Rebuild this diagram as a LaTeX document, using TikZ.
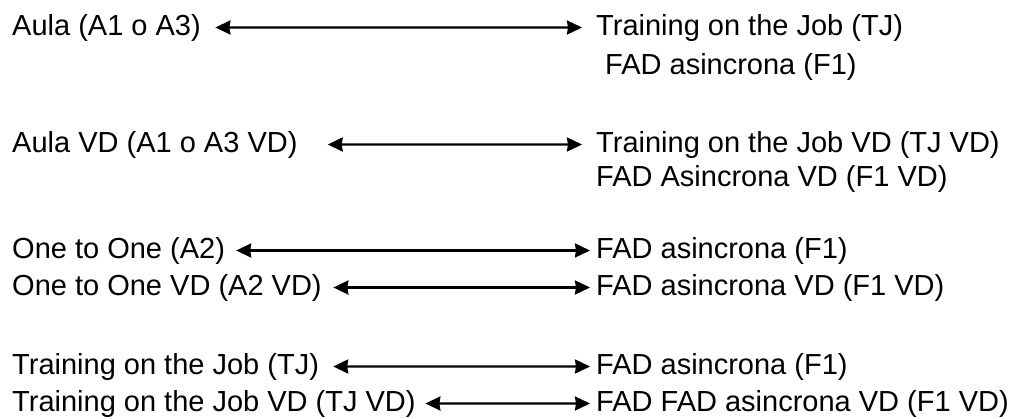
\documentclass[tikz,border=0pt]{standalone}
\usepackage{fontspec}
\setmainfont{Liberation Sans}
\usepackage{tikz}
\usetikzlibrary{arrows.meta, positioning}
\tikzset{>={Stealth[length=15pt, width=14pt, inset=1pt]}, font=\fontsize{29}{35}\selectfont}
\tikzset{item/.style={anchor=base west, inner sep=0pt}}
\tikzset{link/.style={<->, line width=2.4pt}}

\begin{document}
\begin{tikzpicture}[x=1pt, y=-1pt]
      \useasboundingbox (0,0) rectangle (1019,418);
      \node[item] (aula) at (12,35) {Aula (A1 o A3)};
      \node[item] (tj) at (596,35) {Training on the Job (TJ)};
      \node[item] (fad) at (605,74) {FAD asincrona (F1)};
      \path[link] (aula) edge[shorten <=14.4pt, shorten >=14pt] (tj);
      \node[item] (aulavd) at (12,152) {Aula VD (A1 o A3 VD)};
      \node[item] (tjvd) at (596,152) {Training on the Job VD (TJ VD)};
      \node[item] (fadvd) at (596,186) {FAD Asincrona VD (F1 VD)};
      \path[link] (aulavd) edge[shorten <=30pt, shorten >=14pt] (tjvd);
      \node[item] (oto) at (12,258) {One to One (A2)};
      \node[item] (otofad) at (596,258) {FAD asincrona (F1)};
      \path[link] (oto) edge[shorten <=11pt, shorten >=6pt] (otofad);
      \node[item] (otovd) at (12,295) {One to One VD (A2 VD)};
      \node[item] (otofadvd) at (596,295) {FAD asincrona VD (F1 VD)};
      \path[link] (otovd) edge[shorten <=11.5pt, shorten >=6pt] (otofadvd);
      \node[item] (job) at (12,374) {Training on the Job (TJ)};
      \node[item] (jobfad) at (596,374) {FAD asincrona (F1)};
      \path[link] (job) edge[shorten <=14pt, shorten >=6pt] (jobfad);
      \node[item] (jobvd) at (12,411) {Training on the Job VD (TJ VD)};
      \node[item] (jobfadvd) at (596,411) {FAD FAD asincrona VD (F1 VD)};
      \path[link] (jobvd) edge[shorten <=9.5pt, shorten >=6pt] (jobfadvd);
    \end{tikzpicture}
\end{document}
